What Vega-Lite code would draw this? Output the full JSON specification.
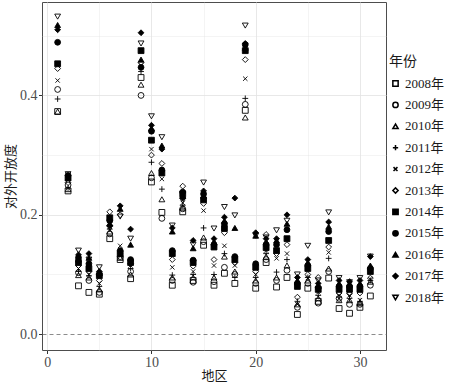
{
"$schema": "https://vega.github.io/schema/vega-lite/v6.json",
"width": 344, "height": 348,
"autosize": {"type": "none"},
"padding": {"left": 42, "top": 2, "right": 64, "bottom": 32},
"background": "white",
"config": {"view": {"stroke": "#4d4d4d", "strokeWidth": 1}, "font": "Liberation Serif, Noto Sans CJK SC"},
"data": {"values": [
{"r":1,"y":"2008年","v":0.373},{"r":1,"y":"2009年","v":0.410},{"r":1,"y":"2010年","v":0.373},{"r":1,"y":"2011年","v":0.394},{"r":1,"y":"2012年","v":0.425},{"r":1,"y":"2013年","v":0.445},{"r":1,"y":"2014年","v":0.453},{"r":1,"y":"2015年","v":0.489},{"r":1,"y":"2016年","v":0.518},{"r":1,"y":"2017年","v":0.510},{"r":1,"y":"2018年","v":0.532},
{"r":2,"y":"2008年","v":0.240},{"r":2,"y":"2009年","v":0.250},{"r":2,"y":"2010年","v":0.243},{"r":2,"y":"2011年","v":0.245},{"r":2,"y":"2012年","v":0.258},{"r":2,"y":"2013年","v":0.254},{"r":2,"y":"2014年","v":0.262},{"r":2,"y":"2015年","v":0.266},{"r":2,"y":"2016年","v":0.262},{"r":2,"y":"2017年","v":0.265},{"r":2,"y":"2018年","v":0.268},
{"r":3,"y":"2008年","v":0.081},{"r":3,"y":"2009年","v":0.103},{"r":3,"y":"2010年","v":0.099},{"r":3,"y":"2011年","v":0.105},{"r":3,"y":"2012年","v":0.110},{"r":3,"y":"2013年","v":0.115},{"r":3,"y":"2014年","v":0.120},{"r":3,"y":"2015年","v":0.128},{"r":3,"y":"2016年","v":0.125},{"r":3,"y":"2017年","v":0.133},{"r":3,"y":"2018年","v":0.140},
{"r":4,"y":"2008年","v":0.070},{"r":4,"y":"2009年","v":0.090},{"r":4,"y":"2010年","v":0.095},{"r":4,"y":"2011年","v":0.098},{"r":4,"y":"2012年","v":0.100},{"r":4,"y":"2013年","v":0.105},{"r":4,"y":"2014年","v":0.110},{"r":4,"y":"2015年","v":0.118},{"r":4,"y":"2016年","v":0.128},{"r":4,"y":"2017年","v":0.135},{"r":4,"y":"2018年","v":0.125},
{"r":5,"y":"2008年","v":0.067},{"r":5,"y":"2009年","v":0.070},{"r":5,"y":"2010年","v":0.075},{"r":5,"y":"2011年","v":0.080},{"r":5,"y":"2012年","v":0.085},{"r":5,"y":"2013年","v":0.090},{"r":5,"y":"2014年","v":0.098},{"r":5,"y":"2015年","v":0.100},{"r":5,"y":"2016年","v":0.102},{"r":5,"y":"2017年","v":0.105},{"r":5,"y":"2018年","v":0.112},
{"r":6,"y":"2008年","v":0.160},{"r":6,"y":"2009年","v":0.168},{"r":6,"y":"2010年","v":0.172},{"r":6,"y":"2011年","v":0.176},{"r":6,"y":"2012年","v":0.180},{"r":6,"y":"2013年","v":0.205},{"r":6,"y":"2014年","v":0.195},{"r":6,"y":"2015年","v":0.190},{"r":6,"y":"2016年","v":0.185},{"r":6,"y":"2017年","v":0.182},{"r":6,"y":"2018年","v":0.178},
{"r":7,"y":"2008年","v":0.125},{"r":7,"y":"2009年","v":0.130},{"r":7,"y":"2010年","v":0.128},{"r":7,"y":"2011年","v":0.135},{"r":7,"y":"2012年","v":0.148},{"r":7,"y":"2013年","v":0.200},{"r":7,"y":"2014年","v":0.135},{"r":7,"y":"2015年","v":0.140},{"r":7,"y":"2016年","v":0.210},{"r":7,"y":"2017年","v":0.215},{"r":7,"y":"2018年","v":0.197},
{"r":8,"y":"2008年","v":0.093},{"r":8,"y":"2009年","v":0.105},{"r":8,"y":"2010年","v":0.100},{"r":8,"y":"2011年","v":0.110},{"r":8,"y":"2012年","v":0.115},{"r":8,"y":"2013年","v":0.118},{"r":8,"y":"2014年","v":0.120},{"r":8,"y":"2015年","v":0.125},{"r":8,"y":"2016年","v":0.150},{"r":8,"y":"2017年","v":0.176},{"r":8,"y":"2018年","v":0.160},
{"r":9,"y":"2008年","v":0.430},{"r":9,"y":"2009年","v":0.400},{"r":9,"y":"2010年","v":0.418},{"r":9,"y":"2011年","v":0.440},{"r":9,"y":"2012年","v":0.450},{"r":9,"y":"2013年","v":0.455},{"r":9,"y":"2014年","v":0.475},{"r":9,"y":"2015年","v":0.447},{"r":9,"y":"2016年","v":0.460},{"r":9,"y":"2017年","v":0.505},{"r":9,"y":"2018年","v":0.487},
{"r":10,"y":"2008年","v":0.255},{"r":10,"y":"2009年","v":0.262},{"r":10,"y":"2010年","v":0.270},{"r":10,"y":"2011年","v":0.288},{"r":10,"y":"2012年","v":0.310},{"r":10,"y":"2013年","v":0.300},{"r":10,"y":"2014年","v":0.325},{"r":10,"y":"2015年","v":0.340},{"r":10,"y":"2016年","v":0.345},{"r":10,"y":"2017年","v":0.350},{"r":10,"y":"2018年","v":0.365},
{"r":11,"y":"2008年","v":0.204},{"r":11,"y":"2009年","v":0.194},{"r":11,"y":"2010年","v":0.226},{"r":11,"y":"2011年","v":0.243},{"r":11,"y":"2012年","v":0.260},{"r":11,"y":"2013年","v":0.286},{"r":11,"y":"2014年","v":0.270},{"r":11,"y":"2015年","v":0.275},{"r":11,"y":"2016年","v":0.316},{"r":11,"y":"2017年","v":0.310},{"r":11,"y":"2018年","v":0.330},
{"r":12,"y":"2008年","v":0.082},{"r":12,"y":"2009年","v":0.090},{"r":12,"y":"2010年","v":0.095},{"r":12,"y":"2011年","v":0.099},{"r":12,"y":"2012年","v":0.112},{"r":12,"y":"2013年","v":0.125},{"r":12,"y":"2014年","v":0.135},{"r":12,"y":"2015年","v":0.140},{"r":12,"y":"2016年","v":0.172},{"r":12,"y":"2017年","v":0.178},{"r":12,"y":"2018年","v":0.182},
{"r":13,"y":"2008年","v":0.205},{"r":13,"y":"2009年","v":0.210},{"r":13,"y":"2010年","v":0.212},{"r":13,"y":"2011年","v":0.216},{"r":13,"y":"2012年","v":0.220},{"r":13,"y":"2013年","v":0.248},{"r":13,"y":"2014年","v":0.235},{"r":13,"y":"2015年","v":0.238},{"r":13,"y":"2016年","v":0.232},{"r":13,"y":"2017年","v":0.228},{"r":13,"y":"2018年","v":0.224},
{"r":14,"y":"2008年","v":0.090},{"r":14,"y":"2009年","v":0.087},{"r":14,"y":"2010年","v":0.095},{"r":14,"y":"2011年","v":0.100},{"r":14,"y":"2012年","v":0.105},{"r":14,"y":"2013年","v":0.114},{"r":14,"y":"2014年","v":0.120},{"r":14,"y":"2015年","v":0.124},{"r":14,"y":"2016年","v":0.144},{"r":14,"y":"2017年","v":0.157},{"r":14,"y":"2018年","v":0.150},
{"r":15,"y":"2008年","v":0.149},{"r":15,"y":"2009年","v":0.155},{"r":15,"y":"2010年","v":0.162},{"r":15,"y":"2011年","v":0.178},{"r":15,"y":"2012年","v":0.207},{"r":15,"y":"2013年","v":0.219},{"r":15,"y":"2014年","v":0.225},{"r":15,"y":"2015年","v":0.235},{"r":15,"y":"2016年","v":0.232},{"r":15,"y":"2017年","v":0.240},{"r":15,"y":"2018年","v":0.254},
{"r":16,"y":"2008年","v":0.082},{"r":16,"y":"2009年","v":0.088},{"r":16,"y":"2010年","v":0.095},{"r":16,"y":"2011年","v":0.100},{"r":16,"y":"2012年","v":0.115},{"r":16,"y":"2013年","v":0.125},{"r":16,"y":"2014年","v":0.146},{"r":16,"y":"2015年","v":0.150},{"r":16,"y":"2016年","v":0.155},{"r":16,"y":"2017年","v":0.160},{"r":16,"y":"2018年","v":0.177},
{"r":17,"y":"2008年","v":0.102},{"r":17,"y":"2009年","v":0.112},{"r":17,"y":"2010年","v":0.130},{"r":17,"y":"2011年","v":0.135},{"r":17,"y":"2012年","v":0.148},{"r":17,"y":"2013年","v":0.170},{"r":17,"y":"2014年","v":0.177},{"r":17,"y":"2015年","v":0.185},{"r":17,"y":"2016年","v":0.190},{"r":17,"y":"2017年","v":0.196},{"r":17,"y":"2018年","v":0.213},
{"r":18,"y":"2008年","v":0.085},{"r":18,"y":"2009年","v":0.100},{"r":18,"y":"2010年","v":0.105},{"r":18,"y":"2011年","v":0.095},{"r":18,"y":"2012年","v":0.115},{"r":18,"y":"2013年","v":0.120},{"r":18,"y":"2014年","v":0.125},{"r":18,"y":"2015年","v":0.130},{"r":18,"y":"2016年","v":0.178},{"r":18,"y":"2017年","v":0.228},{"r":18,"y":"2018年","v":0.199},
{"r":19,"y":"2008年","v":0.375},{"r":19,"y":"2009年","v":0.385},{"r":19,"y":"2010年","v":0.363},{"r":19,"y":"2011年","v":0.395},{"r":19,"y":"2012年","v":0.428},{"r":19,"y":"2013年","v":0.460},{"r":19,"y":"2014年","v":0.475},{"r":19,"y":"2015年","v":0.485},{"r":19,"y":"2016年","v":0.480},{"r":19,"y":"2017年","v":0.487},{"r":19,"y":"2018年","v":0.517},
{"r":20,"y":"2008年","v":0.077},{"r":20,"y":"2009年","v":0.085},{"r":20,"y":"2010年","v":0.090},{"r":20,"y":"2011年","v":0.095},{"r":20,"y":"2012年","v":0.100},{"r":20,"y":"2013年","v":0.105},{"r":20,"y":"2014年","v":0.112},{"r":20,"y":"2015年","v":0.118},{"r":20,"y":"2016年","v":0.165},{"r":20,"y":"2017年","v":0.170},{"r":20,"y":"2018年","v":0.165},
{"r":21,"y":"2008年","v":0.120},{"r":21,"y":"2009年","v":0.125},{"r":21,"y":"2010年","v":0.130},{"r":21,"y":"2011年","v":0.135},{"r":21,"y":"2012年","v":0.140},{"r":21,"y":"2013年","v":0.167},{"r":21,"y":"2014年","v":0.145},{"r":21,"y":"2015年","v":0.150},{"r":21,"y":"2016年","v":0.155},{"r":21,"y":"2017年","v":0.160},{"r":21,"y":"2018年","v":0.162},
{"r":22,"y":"2008年","v":0.079},{"r":22,"y":"2009年","v":0.090},{"r":22,"y":"2010年","v":0.095},{"r":22,"y":"2011年","v":0.104},{"r":22,"y":"2012年","v":0.127},{"r":22,"y":"2013年","v":0.135},{"r":22,"y":"2014年","v":0.140},{"r":22,"y":"2015年","v":0.150},{"r":22,"y":"2016年","v":0.157},{"r":22,"y":"2017年","v":0.160},{"r":22,"y":"2018年","v":0.174},
{"r":23,"y":"2008年","v":0.095},{"r":23,"y":"2009年","v":0.107},{"r":23,"y":"2010年","v":0.115},{"r":23,"y":"2011年","v":0.125},{"r":23,"y":"2012年","v":0.135},{"r":23,"y":"2013年","v":0.150},{"r":23,"y":"2014年","v":0.160},{"r":23,"y":"2015年","v":0.175},{"r":23,"y":"2016年","v":0.185},{"r":23,"y":"2017年","v":0.200},{"r":23,"y":"2018年","v":0.190},
{"r":24,"y":"2008年","v":0.033},{"r":24,"y":"2009年","v":0.045},{"r":24,"y":"2010年","v":0.050},{"r":24,"y":"2011年","v":0.055},{"r":24,"y":"2012年","v":0.050},{"r":24,"y":"2013年","v":0.062},{"r":24,"y":"2014年","v":0.080},{"r":24,"y":"2015年","v":0.085},{"r":24,"y":"2016年","v":0.090},{"r":24,"y":"2017年","v":0.095},{"r":24,"y":"2018年","v":0.100},
{"r":25,"y":"2008年","v":0.077},{"r":25,"y":"2009年","v":0.085},{"r":25,"y":"2010年","v":0.090},{"r":25,"y":"2011年","v":0.095},{"r":25,"y":"2012年","v":0.094},{"r":25,"y":"2013年","v":0.100},{"r":25,"y":"2014年","v":0.110},{"r":25,"y":"2015年","v":0.115},{"r":25,"y":"2016年","v":0.120},{"r":25,"y":"2017年","v":0.125},{"r":25,"y":"2018年","v":0.148},
{"r":26,"y":"2008年","v":0.055},{"r":26,"y":"2009年","v":0.052},{"r":26,"y":"2010年","v":0.060},{"r":26,"y":"2011年","v":0.065},{"r":26,"y":"2012年","v":0.070},{"r":26,"y":"2013年","v":0.095},{"r":26,"y":"2014年","v":0.075},{"r":26,"y":"2015年","v":0.078},{"r":26,"y":"2016年","v":0.080},{"r":26,"y":"2017年","v":0.085},{"r":26,"y":"2018年","v":0.090},
{"r":27,"y":"2008年","v":0.094},{"r":27,"y":"2009年","v":0.105},{"r":27,"y":"2010年","v":0.110},{"r":27,"y":"2011年","v":0.127},{"r":27,"y":"2012年","v":0.137},{"r":27,"y":"2013年","v":0.146},{"r":27,"y":"2014年","v":0.157},{"r":27,"y":"2015年","v":0.172},{"r":27,"y":"2016年","v":0.180},{"r":27,"y":"2017年","v":0.188},{"r":27,"y":"2018年","v":0.204},
{"r":28,"y":"2008年","v":0.043},{"r":28,"y":"2009年","v":0.060},{"r":28,"y":"2010年","v":0.057},{"r":28,"y":"2011年","v":0.062},{"r":28,"y":"2012年","v":0.065},{"r":28,"y":"2013年","v":0.069},{"r":28,"y":"2014年","v":0.075},{"r":28,"y":"2015年","v":0.080},{"r":28,"y":"2016年","v":0.085},{"r":28,"y":"2017年","v":0.090},{"r":28,"y":"2018年","v":0.094},
{"r":29,"y":"2008年","v":0.035},{"r":29,"y":"2009年","v":0.050},{"r":29,"y":"2010年","v":0.057},{"r":29,"y":"2011年","v":0.060},{"r":29,"y":"2012年","v":0.065},{"r":29,"y":"2013年","v":0.068},{"r":29,"y":"2014年","v":0.075},{"r":29,"y":"2015年","v":0.080},{"r":29,"y":"2016年","v":0.085},{"r":29,"y":"2017年","v":0.088},{"r":29,"y":"2018年","v":0.087},
{"r":30,"y":"2008年","v":0.045},{"r":30,"y":"2009年","v":0.050},{"r":30,"y":"2010年","v":0.052},{"r":30,"y":"2011年","v":0.055},{"r":30,"y":"2012年","v":0.057},{"r":30,"y":"2013年","v":0.069},{"r":30,"y":"2014年","v":0.075},{"r":30,"y":"2015年","v":0.080},{"r":30,"y":"2016年","v":0.085},{"r":30,"y":"2017年","v":0.090},{"r":30,"y":"2018年","v":0.094},
{"r":31,"y":"2008年","v":0.064},{"r":31,"y":"2009年","v":0.082},{"r":31,"y":"2010年","v":0.088},{"r":31,"y":"2011年","v":0.090},{"r":31,"y":"2012年","v":0.092},{"r":31,"y":"2013年","v":0.094},{"r":31,"y":"2014年","v":0.105},{"r":31,"y":"2015年","v":0.110},{"r":31,"y":"2016年","v":0.115},{"r":31,"y":"2017年","v":0.130},{"r":31,"y":"2018年","v":0.130}
]},
"mark": {"type": "point", "filled": true, "stroke": "black", "strokeWidth": 0.9, "size": 34, "opacity": 1},
"encoding": {
  "x": {"field": "r", "type": "quantitative", "title": "地区",
    "scale": {"domain": [-0.5, 32.5], "nice": false, "zero": false},
    "axis": {"values": [0, 5, 10, 15, 20, 25, 30], "domain": false,
      "labelExpr": "datum.value % 10 === 0 ? datum.label : ''",
      "tickOpacity": {"condition": {"test": "datum.value % 10 === 0", "value": 1}, "value": 0},
      "gridWidth": {"condition": {"test": "datum.value % 10 === 0", "value": 0.8}, "value": 0.4},
      "gridColor": "#e2e2e2", "tickColor": "#333333", "tickSize": 3.5, "labelPadding": 1.5,
      "labelFont": "Liberation Serif", "labelFontSize": 14, "labelColor": "#4d4d4d",
      "titleFont": "Noto Sans CJK SC", "titleFontSize": 13, "titleFontWeight": "normal", "titleColor": "#1a1a1a", "titlePadding": 0}},
  "y": {"field": "v", "type": "quantitative", "title": "对外开放度",
    "scale": {"domain": [-0.0265, 0.5565], "nice": false, "zero": false},
    "axis": {"values": [0, 0.1, 0.2, 0.3, 0.4, 0.5], "domain": false, "format": ".1f",
      "labelExpr": "datum.value * 10 % 2 < 0.5 ? datum.label : ''",
      "tickOpacity": {"condition": {"test": "datum.value * 10 % 2 < 0.5", "value": 1}, "value": 0},
      "gridWidth": {"condition": {"test": "datum.value * 10 % 2 < 0.5", "value": 0.8}, "value": 0.4},
      "gridDash": {"condition": {"test": "datum.value === 0", "value": [4, 3]}, "value": []},
      "gridColor": {"condition": {"test": "datum.value === 0", "value": "#6e6e6e"}, "value": "#e2e2e2"},
      "tickColor": "#333333", "tickSize": 3.5, "labelPadding": 1.5,
      "labelFont": "Liberation Serif", "labelFontSize": 14, "labelColor": "#4d4d4d",
      "titleFont": "Noto Sans CJK SC", "titleFontSize": 13, "titleFontWeight": "normal", "titleColor": "#1a1a1a", "titlePadding": 2}},
  "shape": {"field": "y", "type": "nominal", "title": "年份",
    "scale": {"domain": ["2008年","2009年","2010年","2011年","2012年","2013年","2014年","2015年","2016年","2017年","2018年"],
      "range": ["square", "circle", "triangle-up", "M-1,0L1,0M0,-1L0,1", "M-0.75,-0.75L0.75,0.75M-0.75,0.75L0.75,-0.75", "diamond", "square", "circle", "triangle-up", "diamond", "triangle-down"]},
    "legend": {"orient": "none", "legendX": 347, "legendY": 53, "padding": 0,
      "titleFont": "Noto Sans CJK SC", "titleFontSize": 14, "titleFontWeight": "normal", "titleColor": "#1a1a1a", "titlePadding": 8,
      "labelFont": "Liberation Serif, Noto Sans CJK SC", "labelFontSize": 13, "labelColor": "#1a1a1a", "labelOffset": 3,
      "rowPadding": 7.4, "symbolSize": 28,
      "encode": {"symbols": {"update": {"stroke": {"value": "black"}, "strokeWidth": {"value": 0.9}}}}}},
  "fill": {"field": "y", "type": "nominal", "title": "年份",
    "scale": {"domain": ["2008年","2009年","2010年","2011年","2012年","2013年","2014年","2015年","2016年","2017年","2018年"],
      "range": ["transparent","transparent","transparent","transparent","transparent","transparent","black","black","black","black","transparent"]}}
}
}
